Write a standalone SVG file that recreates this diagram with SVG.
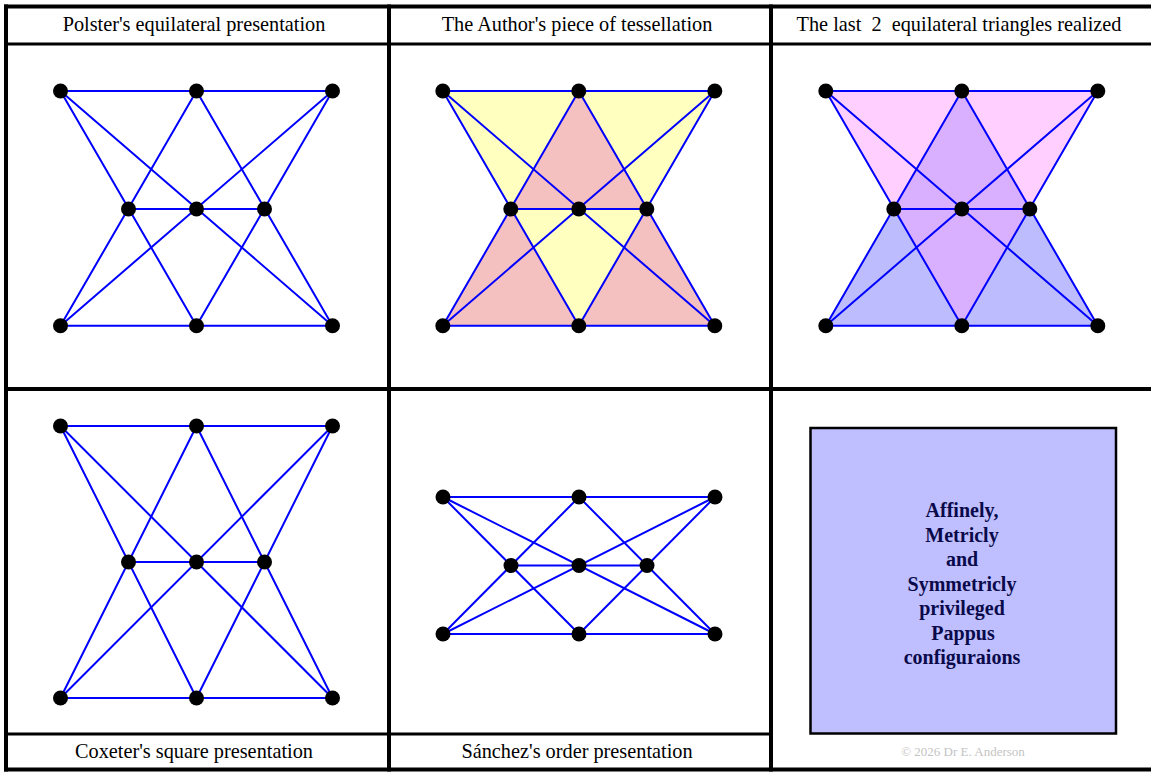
<svg xmlns="http://www.w3.org/2000/svg" width="1151" height="772" viewBox="0 0 1151 772">
<style>
.thick{stroke:#000;stroke-width:4;fill:none}
.thin{stroke:#000;stroke-width:3;fill:none}
.edge{stroke:#0000ff;stroke-width:2;fill:none;stroke-linecap:round}
.pt{fill:#000}
.hdr{font-family:"Liberation Serif","Times New Roman",serif;font-size:20.3px;text-anchor:middle;fill:#000}
.bx{font-family:"Liberation Serif","Times New Roman",serif;font-size:20px;font-weight:bold;text-anchor:middle;fill:#0a0a4a}
.cp{font-family:"Liberation Serif","Times New Roman",serif;font-size:13px;text-anchor:middle;fill:#c4c4c4}
</style>
<defs>
<g id="eqEdges">
<line class="edge" x1="0" y1="0" x2="272" y2="0"/>
<line class="edge" x1="68" y1="118" x2="204" y2="118"/>
<line class="edge" x1="0" y1="234.7" x2="272" y2="234.7"/>
<line class="edge" x1="0" y1="0" x2="136" y2="234.7"/>
<line class="edge" x1="0" y1="0" x2="272" y2="234.7"/>
<line class="edge" x1="136" y1="0" x2="0" y2="234.7"/>
<line class="edge" x1="136" y1="0" x2="272" y2="234.7"/>
<line class="edge" x1="272" y1="0" x2="0" y2="234.7"/>
<line class="edge" x1="272" y1="0" x2="136" y2="234.7"/>
</g>
</defs>
<rect x="0" y="0" width="1151" height="772" fill="#fff"/>

<g id="frame">
<line class="thick" x1="4" y1="6.5" x2="1151" y2="6.5"/>
<line class="thick" x1="6" y1="4.5" x2="6" y2="771.5"/>
<line class="thick" x1="4" y1="769.5" x2="1151" y2="769.5"/>
<line class="thick" x1="389" y1="4.5" x2="389" y2="771.5"/>
<line class="thick" x1="771" y1="4.5" x2="771" y2="771.5"/>
<line class="thin" x1="6" y1="44" x2="1151" y2="44"/>
<line class="thick" x1="6" y1="389" x2="1151" y2="389"/>
<line class="thin" x1="6" y1="734" x2="771" y2="734"/>
</g>

<g id="labels">
<text class="hdr" x="194" y="31">Polster's equilateral presentation</text>
<text class="hdr" x="577" y="31">The Author's piece of tessellation</text>
<text class="hdr" x="959" y="31" xml:space="preserve">The last  2  equilateral triangles realized</text>
<text class="hdr" x="194" y="758">Coxeter's square presentation</text>
<text class="hdr" x="577" y="758">Sánchez's order presentation</text>
</g>

<g id="panel-polster" transform="translate(60.5,91)">
<g id="polster-connectors"><use href="#eqEdges"/></g>
<circle id="p1-a1" class="pt" cx="0" cy="0" r="7.5"/>
<circle id="p1-a2" class="pt" cx="136" cy="0" r="7.5"/>
<circle id="p1-a3" class="pt" cx="272" cy="0" r="7.5"/>
<circle id="p1-m1" class="pt" cx="68" cy="118" r="7.5"/>
<circle id="p1-m2" class="pt" cx="136" cy="118" r="7.5"/>
<circle id="p1-m3" class="pt" cx="204" cy="118" r="7.5"/>
<circle id="p1-b1" class="pt" cx="0" cy="234.7" r="7.5"/>
<circle id="p1-b2" class="pt" cx="136" cy="234.7" r="7.5"/>
<circle id="p1-b3" class="pt" cx="272" cy="234.7" r="7.5"/>
</g>

<g id="panel-author" transform="translate(442.8,91)">
<g id="author-fills">
<polygon points="0,0 136,0 68,118" fill="#ffffc0"/>
<polygon points="136,0 272,0 204,118" fill="#ffffc0"/>
<polygon points="68,118 204,118 136,234.7" fill="#ffffc0"/>
<polygon points="68,118 136,0 204,118" fill="#f4c0c0"/>
<polygon points="0,234.7 68,118 136,234.7" fill="#f4c0c0"/>
<polygon points="136,234.7 204,118 272,234.7" fill="#f4c0c0"/>
</g>
<g id="author-connectors"><use href="#eqEdges"/></g>
<circle id="p2-a1" class="pt" cx="0" cy="0" r="7.5"/>
<circle id="p2-a2" class="pt" cx="136" cy="0" r="7.5"/>
<circle id="p2-a3" class="pt" cx="272" cy="0" r="7.5"/>
<circle id="p2-m1" class="pt" cx="68" cy="118" r="7.5"/>
<circle id="p2-m2" class="pt" cx="136" cy="118" r="7.5"/>
<circle id="p2-m3" class="pt" cx="204" cy="118" r="7.5"/>
<circle id="p2-b1" class="pt" cx="0" cy="234.7" r="7.5"/>
<circle id="p2-b2" class="pt" cx="136" cy="234.7" r="7.5"/>
<circle id="p2-b3" class="pt" cx="272" cy="234.7" r="7.5"/>
</g>

<g id="panel-last2" transform="translate(825.8,91)">
<g id="last2-fills">
<polygon points="0,0 136,0 68,118" fill="#ffd0ff"/>
<polygon points="136,0 272,0 204,118" fill="#ffd0ff"/>
<polygon points="136,0 68,118 136,234.7 204,118" fill="#d8b0ff"/>
<polygon points="0,234.7 68,118 136,234.7" fill="#bcbcff"/>
<polygon points="136,234.7 204,118 272,234.7" fill="#bcbcff"/>
</g>
<g id="last2-connectors"><use href="#eqEdges"/></g>
<circle id="p3-a1" class="pt" cx="0" cy="0" r="7.5"/>
<circle id="p3-a2" class="pt" cx="136" cy="0" r="7.5"/>
<circle id="p3-a3" class="pt" cx="272" cy="0" r="7.5"/>
<circle id="p3-m1" class="pt" cx="68" cy="118" r="7.5"/>
<circle id="p3-m2" class="pt" cx="136" cy="118" r="7.5"/>
<circle id="p3-m3" class="pt" cx="204" cy="118" r="7.5"/>
<circle id="p3-b1" class="pt" cx="0" cy="234.7" r="7.5"/>
<circle id="p3-b2" class="pt" cx="136" cy="234.7" r="7.5"/>
<circle id="p3-b3" class="pt" cx="272" cy="234.7" r="7.5"/>
</g>

<g id="panel-coxeter" transform="translate(60.5,426)">
<g id="coxeter-connectors">
<line class="edge" x1="0" y1="0" x2="272" y2="0"/>
<line class="edge" x1="68" y1="136" x2="204" y2="136"/>
<line class="edge" x1="0" y1="272" x2="272" y2="272"/>
<line class="edge" x1="0" y1="0" x2="136" y2="272"/>
<line class="edge" x1="0" y1="0" x2="272" y2="272"/>
<line class="edge" x1="136" y1="0" x2="0" y2="272"/>
<line class="edge" x1="136" y1="0" x2="272" y2="272"/>
<line class="edge" x1="272" y1="0" x2="0" y2="272"/>
<line class="edge" x1="272" y1="0" x2="136" y2="272"/>
</g>
<circle id="p4-a1" class="pt" cx="0" cy="0" r="7.5"/>
<circle id="p4-a2" class="pt" cx="136" cy="0" r="7.5"/>
<circle id="p4-a3" class="pt" cx="272" cy="0" r="7.5"/>
<circle id="p4-m1" class="pt" cx="68" cy="136" r="7.5"/>
<circle id="p4-m2" class="pt" cx="136" cy="136" r="7.5"/>
<circle id="p4-m3" class="pt" cx="204" cy="136" r="7.5"/>
<circle id="p4-b1" class="pt" cx="0" cy="272" r="7.5"/>
<circle id="p4-b2" class="pt" cx="136" cy="272" r="7.5"/>
<circle id="p4-b3" class="pt" cx="272" cy="272" r="7.5"/>
</g>

<g id="panel-sanchez" transform="translate(443,497)">
<g id="sanchez-connectors">
<line class="edge" x1="0" y1="0" x2="272" y2="0"/>
<line class="edge" x1="68" y1="68.5" x2="204" y2="68.5"/>
<line class="edge" x1="0" y1="137" x2="272" y2="137"/>
<line class="edge" x1="0" y1="0" x2="136" y2="137"/>
<line class="edge" x1="0" y1="0" x2="272" y2="137"/>
<line class="edge" x1="136" y1="0" x2="0" y2="137"/>
<line class="edge" x1="136" y1="0" x2="272" y2="137"/>
<line class="edge" x1="272" y1="0" x2="0" y2="137"/>
<line class="edge" x1="272" y1="0" x2="136" y2="137"/>
</g>
<circle id="p5-a1" class="pt" cx="0" cy="0" r="7.5"/>
<circle id="p5-a2" class="pt" cx="136" cy="0" r="7.5"/>
<circle id="p5-a3" class="pt" cx="272" cy="0" r="7.5"/>
<circle id="p5-m1" class="pt" cx="68" cy="68.5" r="7.5"/>
<circle id="p5-m2" class="pt" cx="136" cy="68.5" r="7.5"/>
<circle id="p5-m3" class="pt" cx="204" cy="68.5" r="7.5"/>
<circle id="p5-b1" class="pt" cx="0" cy="137" r="7.5"/>
<circle id="p5-b2" class="pt" cx="136" cy="137" r="7.5"/>
<circle id="p5-b3" class="pt" cx="272" cy="137" r="7.5"/>
</g>

<g id="summary-box">
<rect x="810.5" y="428" width="305.5" height="305.5" fill="#bfbfff" stroke="#000" stroke-width="2.5"/>
<text class="bx" x="962" y="517">Affinely,</text>
<text class="bx" x="962" y="541.5">Metricly</text>
<text class="bx" x="962" y="566">and</text>
<text class="bx" x="962" y="590.5">Symmetricly</text>
<text class="bx" x="962" y="615">privileged</text>
<text class="bx" x="963" y="639.5">Pappus</text>
<text class="bx" x="962" y="664">configuraions</text>
</g>
<text id="copyright" class="cp" x="963" y="756">© 2026 Dr E. Anderson</text>
</svg>
